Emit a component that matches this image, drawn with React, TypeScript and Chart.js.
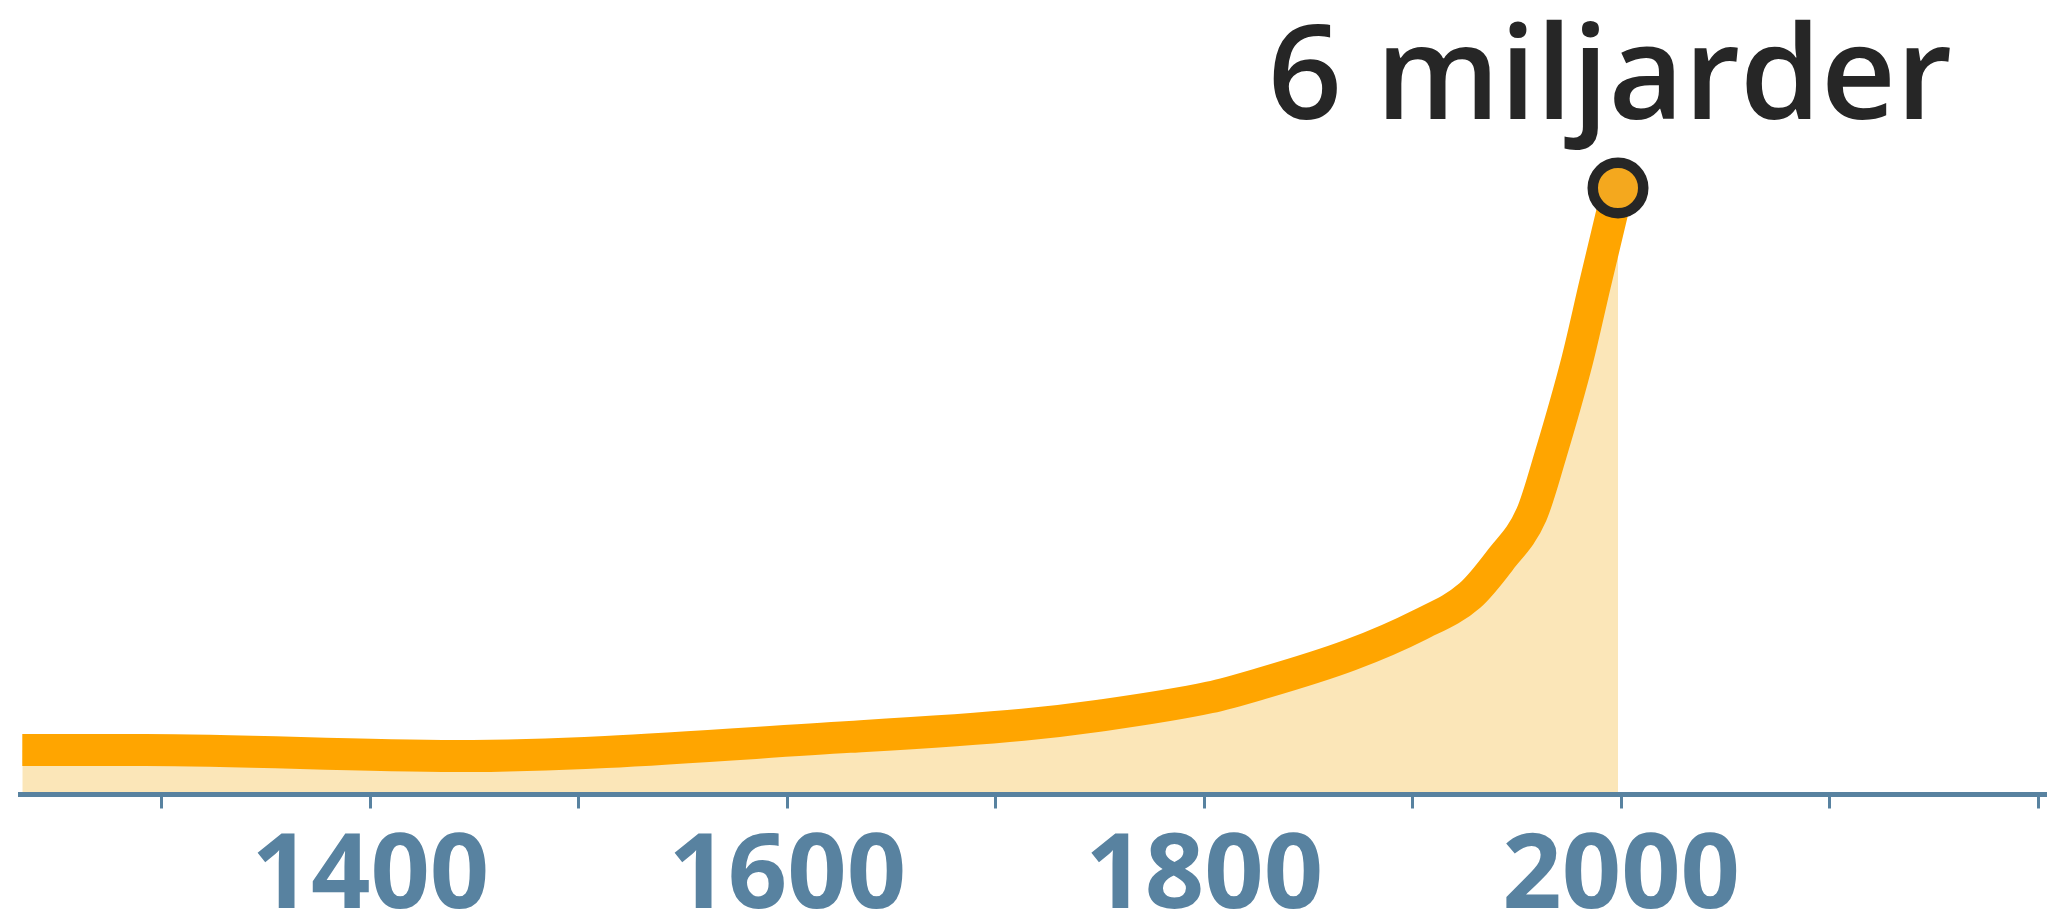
import React, { useEffect, useRef } from "react";
import { Chart, registerables } from "chart.js";

Chart.register(...registerables);

// World population (billions) by year
const years = [1233, 1292, 1441, 1630, 1713, 1750, 1802.5, 1826, 1870, 1903.5, 1927.5, 1942, 1957, 1966, 1979, 1987.5, 1998.5];
const population = [0.44, 0.44, 0.38, 0.57, 0.69, 0.78, 0.96, 1.09, 1.38, 1.68, 1.97, 2.32, 2.77, 3.35, 4.3, 5.05, 6.0];

const tickYears = [1300, 1400, 1500, 1600, 1700, 1800, 1900, 2000, 2100, 2200];
const labelYears = [1400, 1600, 1800, 2000];
const endLabel = "6 miljarder";

const AXIS_COLOR = "#5882a0";
const LINE_COLOR = "#ffa500";
const FILL_COLOR = "#fbe6b8";
const DOT_COLOR = "#f4a81e";
const DARK = "#262626";

const endLabelPlugin = {
  id: "endLabel",
  afterDatasetsDraw(chart: any) {
    const meta = chart.getDatasetMeta(0);
    const pt = meta.data[meta.data.length - 1];
    if (!pt) return;
    const ctx = chart.ctx;
    ctx.save();
    ctx.font = '600 130px "Open Sans"';
    ctx.fillStyle = DARK;
    ctx.textAlign = "right";
    ctx.textBaseline = "alphabetic";
    ctx.fillText(endLabel, pt.x + 334, pt.y - 69);
    ctx.restore();
  },
};

export default function App() {
  const ref = useRef<HTMLCanvasElement | null>(null);

  useEffect(() => {
    if (!ref.current) return;
    const last = population.length - 1;
    const chart = new Chart(ref.current, {
      type: "line",
      data: {
        datasets: [
          {
            data: years.map((y, i) => ({ x: y, y: population[i] })),
            borderColor: LINE_COLOR,
            borderWidth: 32,
            borderJoinStyle: "round",
            borderCapStyle: "butt",
            backgroundColor: FILL_COLOR,
            fill: "origin",
            cubicInterpolationMode: "monotone",
            pointRadius: (c: any) => (c.dataIndex === last ? 25.25 : 0),
            pointBorderWidth: 10.5,
            pointBackgroundColor: DOT_COLOR,
            pointBorderColor: DARK,
            clip: false,
          } as any,
        ],
      },
      options: {
        animation: false,
        responsive: false,
        events: [],
        layout: { autoPadding: false, padding: { left: 20, right: 0, top: 0, bottom: -31.5 } },
        plugins: { legend: { display: false }, tooltip: { enabled: false }, title: { display: false } },
        scales: {
          x: {
            type: "linear",
            min: 1231.9,
            max: 2204.3,
            afterBuildTicks: (scale: any) => {
              scale.ticks = tickYears.map((v) => ({ value: v }));
            },
            border: { display: true, color: AXIS_COLOR, width: 5, z: 1 },
            grid: {
              display: true,
              drawOnChartArea: false,
              drawTicks: true,
              tickLength: 14,
              tickWidth: 3,
              tickColor: AXIS_COLOR,
            },
            ticks: {
              autoSkip: false,
              maxRotation: 0,
              padding: 0,
              color: AXIS_COLOR,
              font: { family: '"Open Sans"', weight: "bold", size: 104, lineHeight: 139 / 104 },
              callback: (v: any) => (labelYears.includes(Number(v)) ? String(v) : ""),
            },
          },
          y: {
            display: false,
            min: 0,
            max: 7.86,
          },
        },
      },
      plugins: [endLabelPlugin],
    });
    return () => chart.destroy();
  }, []);

  return (
    <div style={{ position: "fixed", left: 0, top: 0, width: 2047, height: 916, background: "#fff" }}>
      <canvas ref={ref} width={2047} height={916} style={{ display: "block" }} />
    </div>
  );
}
